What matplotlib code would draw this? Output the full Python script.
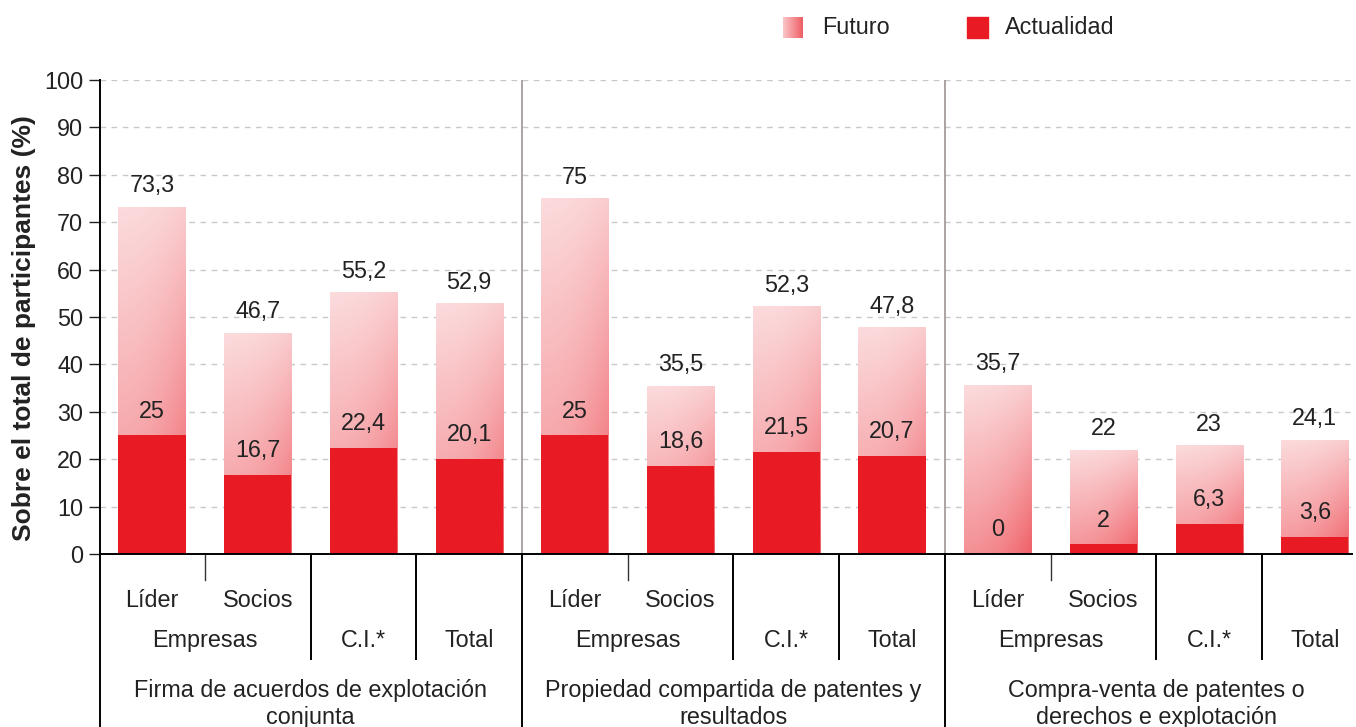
import numpy as np
import matplotlib
matplotlib.use('Agg')
import matplotlib.pyplot as plt
import matplotlib.transforms as mtransforms

plt.rcParams['font.family'] = ['Liberation Sans', 'DejaVu Sans']

# data
futuro = [73.3, 46.7, 55.2, 52.9, 75, 35.5, 52.3, 47.8, 35.7, 22, 23, 24.1]
actualidad = [25, 16.7, 22.4, 20.1, 25, 18.6, 21.5, 20.7, 0, 2, 6.3, 3.6]
sub_labels = ['Líder', 'Socios', '', ''] * 3
mid_labels = ['Empresas', 'C.I.*', 'Total']
groups = ['Firma de acuerdos de explotación\nconjunta',
          'Propiedad compartida de patentes y\nresultados',
          'Compra-venta de patentes o\nderechos e explotación']

red = np.array([0.91, 0.10, 0.14])
fs = 16.8


def gradient(n=200, m=60):
    u = np.linspace(1, 0, n)[:, None]      # 1 at top row
    s = np.linspace(0, 1, m)[None, :]
    t = (0.62 - 0.42 * u) * (0.78 + 0.34 * s ** 2)
    t = np.clip(t, 0, 1)[..., None]
    return (1 - t) * np.ones(3) + t * red


fig = plt.figure(figsize=(13.56, 7.27), dpi=100)
ax = fig.add_axes([0.0737, 0.238, 0.9233, 0.652])

x = np.arange(len(futuro))
w = 0.635
xlim = (-0.492, 11.35)

ax.set_axisbelow(True)
ax.yaxis.grid(True, color='#c8c8c8', linestyle=(0, (4, 4)), linewidth=1)

bars = ax.bar(x, futuro, width=w, color='none', edgecolor='none', zorder=2)
img = gradient()
for b in bars:
    x0, y0 = b.get_x(), b.get_y()
    im = ax.imshow(img, extent=[x0, x0 + b.get_width(), y0, y0 + b.get_height()],
                   aspect='auto', zorder=2, interpolation='bilinear')
    im.set_clip_path(b)

ax.bar(x, actualidad, width=w, color=red, edgecolor='none', zorder=3)

for xi, f, a in zip(x, futuro, actualidad):
    ax.annotate(f'{f:g}'.replace('.', ','), (xi, f), xytext=(0, 15),
                textcoords='offset points', ha='center', va='center', fontsize=fs, color='#222222')
    ax.annotate(f'{a:g}'.replace('.', ','), (xi, a), xytext=(0, 17.5),
                textcoords='offset points', ha='center', va='center', fontsize=fs, color='#222222', zorder=4)

ax.set_xlim(*xlim)
ax.set_ylim(0, 100)
ax.set_yticks(np.arange(0, 101, 10))
ax.set_xticks([])
ax.tick_params(axis='y', length=8, width=1, labelsize=fs, pad=4, colors='#222222')
for sp in ['top', 'right']:
    ax.spines[sp].set_visible(False)
ax.spines['left'].set_linewidth(1.4)
ax.spines['bottom'].set_linewidth(1.4)
ax.spines['left'].set_zorder(5)
ax.spines['bottom'].set_zorder(5)

trans = mtransforms.blended_transform_factory(ax.transData, ax.transAxes)
bottom = -0.37

# left spine continues down through the table
ax.plot([xlim[0], xlim[0]], [0, bottom], transform=trans, color='black', lw=1.4, clip_on=False)

for g in range(3):
    base = g * 4
    ax.plot([base + 0.5] * 2, [0, -0.055], transform=trans, color='#333333', lw=1, clip_on=False)
    ax.plot([base + 1.5] * 2, [0, -0.222], transform=trans, color='black', lw=1.4, clip_on=False)
    ax.plot([base + 2.5] * 2, [0, -0.222], transform=trans, color='black', lw=1.4, clip_on=False)
    if g < 2:
        ax.plot([base + 3.5] * 2, [0, 1], transform=trans, color='#a09494', lw=1.2, zorder=1)
        ax.plot([base + 3.5] * 2, [0, bottom], transform=trans, color='black', lw=1.4, clip_on=False)
    for k in range(2):
        ax.text(base + k, -0.099, sub_labels[base + k], transform=trans, ha='center', va='center',
                fontsize=fs, color='#222222')
    ax.text(base + 0.5, -0.183, mid_labels[0], transform=trans, ha='center', va='center', fontsize=fs, color='#222222')
    ax.text(base + 2, -0.183, mid_labels[1], transform=trans, ha='center', va='center', fontsize=fs, color='#222222')
    ax.text(base + 3, -0.183, mid_labels[2], transform=trans, ha='center', va='center', fontsize=fs, color='#222222')
    ax.text(base + 1.5, -0.316, groups[g], transform=trans, ha='center', va='center', fontsize=fs,
            color='#222222', linespacing=1.2)

fig.text(0.018, 0.549, 'Sobre el total de participantes (%)', rotation=90, ha='center', va='center',
         fontsize=19, fontweight='bold', color='#222222')

# legend
lax = fig.add_axes([783 / 1356, 1 - 38 / 727, 20 / 1356, 21 / 727])
s = np.linspace(0, 1, 40)[None, :]
t = (0.25 + 0.45 * s)[..., None] * np.ones((30, 1, 1))
lax.imshow((1 - t) * np.ones(3) + t * red, aspect='auto', extent=[0, 1, 0, 1])
lax.axis('off')
fig.patches.append(plt.Rectangle((967 / 1356, 1 - 38 / 727), 21 / 1356, 21 / 727,
                                 transform=fig.transFigure, color=red))
fig.text(822 / 1356, 1 - 28 / 727, 'Futuro', ha='left', va='center', fontsize=fs, color='#222222')
fig.text(1005 / 1356, 1 - 28 / 727, 'Actualidad', ha='left', va='center', fontsize=fs, color='#222222')

fig.savefig('out.png', dpi=100)
